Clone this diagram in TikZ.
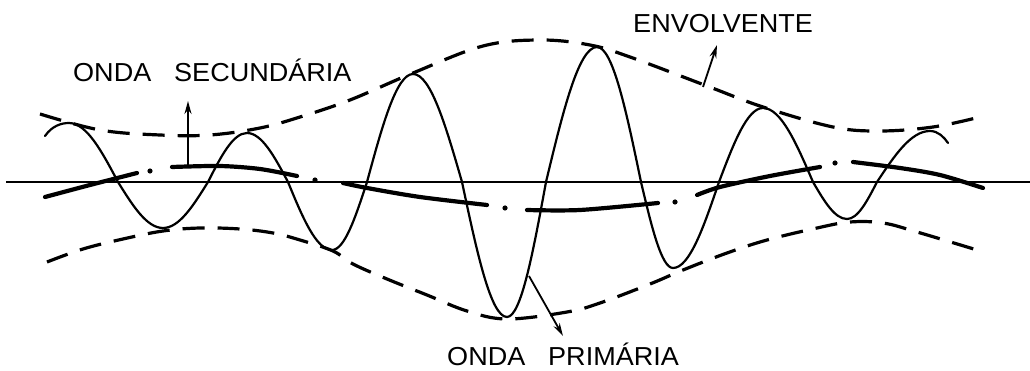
\documentclass[tikz,border=0pt]{standalone}
\usepackage{fontspec}
\setmainfont{Liberation Sans}
\usetikzlibrary{arrows.meta}
\begin{document}
\begin{tikzpicture}[x=1pt,y=-1pt,
  axisline/.style={line width=2.3pt},
  primwave/.style={line width=2.2pt, line join=round, line cap=round},
  secwave/.style={line width=4.2pt, line cap=round},
  secdot/.style={fill=black},
  envline/.style={line width=3.2pt, dash pattern=on 22pt off 13pt},
  pointer/.style={line width=1.8pt, -{Stealth[length=13pt,width=7pt]}},
  lbl/.style={font=\fontsize{26}{30}\selectfont, anchor=base west, inner sep=0pt, xscale=1.04, transform shape}
]
\useasboundingbox (0,0) rectangle (1030,371);

% axis
\draw[axisline] (6,182) -- (1030,182);

% upper envelope
\draw[envline] plot[smooth, tension=0.6] coordinates {(40,114) (100,130) (160,135) (210,135) (260,128) (300,117) (350,100) (413,73) (483,46) (540,40) (590,45) (630,57) (707,86) (763,107) (833,127) (880,131) (933,127) (980,117)};

% lower envelope
\draw[envline] plot[smooth, tension=0.6] coordinates {(47,262) (83,249) (123,239) (163,231) (200,228) (240,229) (273,233) (300,240) (333,251) (353,264) (387,279) (427,295) (467,311) (507,319) (567,312) (600,303) (650,284) (683,270) (727,253) (767,240) (817,228) (850,222) (883,223) (917,232) (977,250)};

% primary wave
\draw[primwave] (45,136) .. controls (52,126) and (61,123) .. (69,123)
  cos (118,182) sin (163,228) cos (208,182) sin (247,133) cos (288,182)
  sin (332,250) cos (367,182) sin (413,74) cos (462,182) sin (507,317)
  cos (546,182) sin (597,47) cos (641,182) sin (673,268) cos (719,182)
  sin (763,108) cos (813,182) sin (847,219) cos (877,182) sin (930,131)
  .. controls (938,131) and (944,137) .. (948,143);

% secondary wave (dash-dot)
\draw[secwave] plot[smooth] coordinates {(45,197) (90,185) (137,173)};
\draw[secwave] plot[smooth] coordinates {(172,167) (220,166) (260,169) (297,176)};
\draw[secwave] plot[smooth] coordinates {(343,183) (367,188) (420,197) (487,205)};
\draw[secwave] plot[smooth] coordinates {(527,210) (580,210) (658,203)};
\draw[secwave] plot[smooth] coordinates {(697,195) (720,187) (770,176) (820,167)};
\draw[secwave] plot[smooth] coordinates {(853,162) (900,168) (940,175) (983,188)};
\foreach \p in {(150,171),(315,180),(505,208),(675,202),(835,163)}
  \fill[secdot] \p circle (2.6);

% labels
\node[lbl] (lsec) at (73,82) {ONDA\hspace{22pt}SECUNDÁRIA};
\node[lbl] (lenv) at (633,33) {ENVOLVENTE};
\node[lbl] (lprim) at (447,365) {ONDA\hspace{22pt}PRIMÁRIA};

% pointers
\coordinate (secfoot) at (188,166);
\coordinate (sectip) at (188,101);
\coordinate (envfoot) at (703,87);
\coordinate (envtip) at (717,45);
\coordinate (primfoot) at (529,276);
\coordinate (primtip) at (563,336);
\draw[pointer] (secfoot) -- (sectip);
\draw[pointer] (envfoot) -- (envtip);
\draw[pointer] (primfoot) -- (primtip);
\end{tikzpicture}
\end{document}
